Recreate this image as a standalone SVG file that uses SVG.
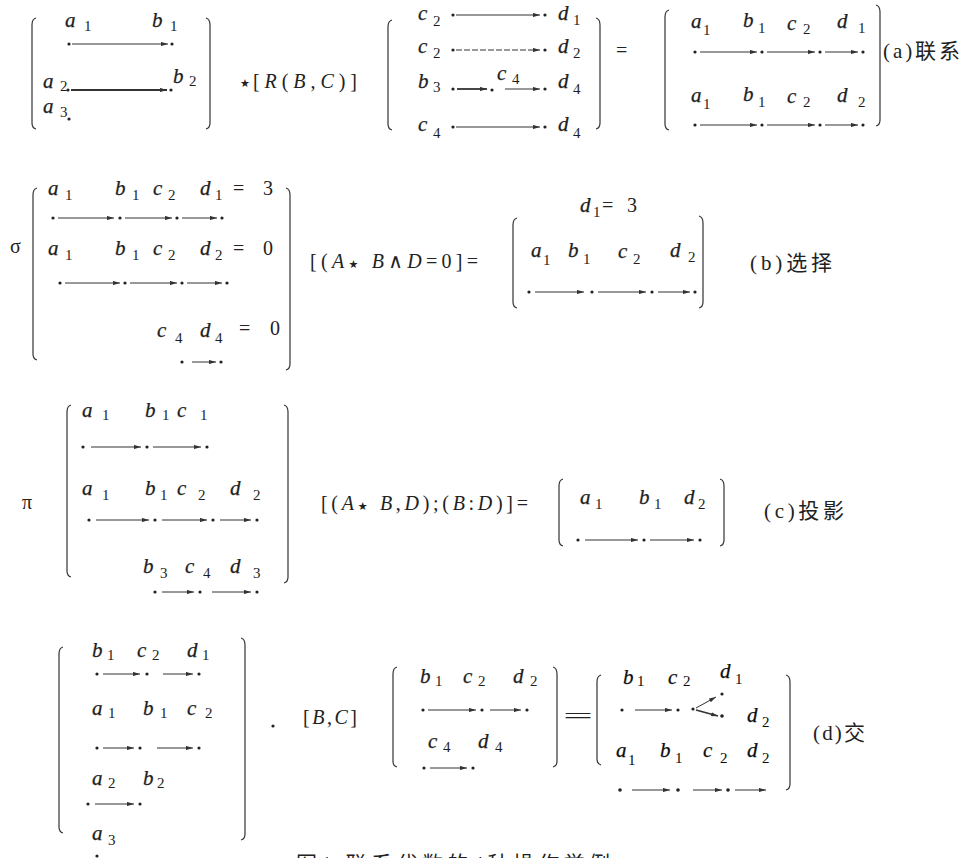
<svg xmlns="http://www.w3.org/2000/svg" width="961" height="858" viewBox="0 0 961 858">
<defs>
<marker id="ah" viewBox="0 0 10 6" refX="10" refY="3" markerWidth="7" markerHeight="4.2" markerUnits="userSpaceOnUse" orient="auto"><path d="M0 0 L10 3 L0 6 z" fill="#333"/></marker>
</defs>
<style>
.v{font-family:"Liberation Serif","DejaVu Serif",serif;font-style:italic;font-size:21px;fill:#1e1e1e;stroke:#1e1e1e;stroke-width:0.25}
.s{font-family:"Liberation Serif","DejaVu Serif",serif;font-size:15px;fill:#1e1e1e}
.op{font-family:"Liberation Serif","DejaVu Serif",serif;font-size:20px;fill:#222}
.i{font-style:italic}
.st{font-family:"DejaVu Sans",sans-serif;font-size:11px;font-style:normal}
.cn{font-family:"Liberation Serif","Noto Sans CJK SC",sans-serif;font-size:21px;fill:#222}
.br{fill:none;stroke:#333;stroke-width:1.2}
.ar{fill:none;stroke:#333;stroke-width:1;marker-end:url(#ah)}
.tk{stroke-width:1.8}
.dt{fill:#222}
.bk .v,.bk .s{fill:#0a0a0a}
</style>
<rect width="961" height="858" fill="#fff"/>

<!-- (a) -->
<g id="a-m1">
<path class="br" d="M36 18 Q32 19 32 25 L32 123 Q32 128 36 129"/>
<path class="br" d="M206 18 Q210 19 210 25 L210 123 Q210 128 206 129"/>
<text class="v" x="65" y="27">a</text><text class="s" x="84" y="31">1</text>
<text class="v" x="152" y="27">b</text><text class="s" x="170" y="31">1</text>
<text class="v" x="43" y="88">a</text><text class="s" x="60" y="91">2</text>
<text class="v" x="173" y="83">b</text><text class="s" x="189" y="86">2</text>
<text class="v" x="43" y="113">a</text><text class="s" x="60" y="117">3</text>
<circle class="dt" cx="69" cy="44" r="1.6"/><circle class="dt" cx="172" cy="44" r="1.6"/>
<circle class="dt" cx="68" cy="90" r="1.6"/><circle class="dt" cx="171" cy="90" r="1.6"/>
<circle class="dt" cx="69" cy="119" r="1.6"/>
</g>
<g id="a-op">
<text class="op st" x="240" y="87" font-size="13">★</text>
<text class="op" x="253" y="88" textLength="104" lengthAdjust="spacing">[<tspan class="i">R</tspan>(<tspan class="i">B</tspan>,<tspan class="i">C</tspan>)]</text>
</g>
<g id="a-m2">
<path class="br" d="M392 20 Q388 21 388 27 L388 124 Q388 129 392 130"/>
<path class="br" d="M596 18 Q600 19 600 25 L600 123 Q600 128 596 129"/>
<text class="v" x="418" y="20">c</text><text class="s" x="433" y="26">2</text>
<text class="v" x="558" y="20">d</text><text class="s" x="573" y="25">1</text>
<text class="v" x="418" y="53">c</text><text class="s" x="433" y="58">2</text>
<text class="v" x="558" y="53">d</text><text class="s" x="573" y="58">2</text>
<text class="v" x="418" y="88">b</text><text class="s" x="433" y="92">3</text>
<text class="v" x="497" y="80" font-size="17">c</text><text class="s" x="512" y="84" font-size="13">4</text>
<text class="v" x="558" y="88">d</text><text class="s" x="573" y="94">4</text>
<text class="v" x="418" y="131" font-style="normal">c</text><text class="s" x="433" y="138">4</text>
<text class="v" x="558" y="131">d</text><text class="s" x="573" y="138">4</text>
<circle class="dt" cx="453" cy="15" r="1.6"/><circle class="dt" cx="545" cy="15" r="1.6"/>
<circle class="dt" cx="453" cy="50" r="1.6"/><circle class="dt" cx="545" cy="50" r="1.6"/>
<circle class="dt" cx="453" cy="89" r="1.6"/><circle class="dt" cx="492" cy="90" r="1.6"/><circle class="dt" cx="545" cy="89" r="1.6"/>
<circle class="dt" cx="453" cy="127" r="1.6"/><circle class="dt" cx="545" cy="127" r="1.6"/>
</g>
<g id="a-eq"><text class="op" x="616" y="57">=</text></g>
<g id="a-m3">
<path class="br" d="M669 10 Q665 11 665 17 L665 124 Q665 129 669 130"/>
<path class="br" d="M876 5 Q880 6 880 12 L880 120 Q880 125 876 126"/>
<text class="v" x="691" y="28">a</text><text class="s" x="703" y="35">1</text>
<text class="v" x="743" y="27">b</text><text class="s" x="758" y="33">1</text>
<text class="v" x="787" y="30">c</text><text class="s" x="803" y="34">2</text>
<text class="v" x="837" y="28">d</text><text class="s" x="858" y="33">1</text>
<text class="v" x="691" y="102">a</text><text class="s" x="703" y="109">1</text>
<text class="v" x="743" y="101">b</text><text class="s" x="758" y="107">1</text>
<text class="v" x="787" y="103">c</text><text class="s" x="803" y="107">2</text>
<text class="v" x="837" y="102">d</text><text class="s" x="858" y="107">2</text>
<circle class="dt" cx="695" cy="52" r="1.6"/><circle class="dt" cx="762" cy="52" r="1.6"/><circle class="dt" cx="820" cy="52" r="1.6"/><circle class="dt" cx="863" cy="52" r="1.6"/>
<circle class="dt" cx="695" cy="125" r="1.6"/><circle class="dt" cx="762" cy="125" r="1.6"/><circle class="dt" cx="820" cy="125" r="1.6"/><circle class="dt" cx="863" cy="125" r="1.6"/>
</g>
<g id="a-label"><text class="cn" x="883" y="58" textLength="77" lengthAdjust="spacing">(a)联系</text></g>

<!-- (b) -->
<g id="b-sigma"><text class="op" x="10" y="253">σ</text></g>
<g id="b-m1">
<path class="br" d="M37 188 Q33 189 33 195 L33 354 Q33 359 37 360"/>
<path class="br" d="M286 188 Q290 189 290 195 L290 364 Q290 369 286 370"/>
<text class="v" x="48" y="195">a</text><text class="s" x="65" y="200">1</text>
<text class="v" x="115" y="195">b</text><text class="s" x="132" y="200">1</text>
<text class="v" x="153" y="195">c</text><text class="s" x="168" y="200">2</text>
<text class="v" x="200" y="195">d</text><text class="s" x="215" y="200">1</text>
<text class="op" x="233" y="195" textLength="40" lengthAdjust="spacing">=3</text>
<text class="v" x="48" y="255">a</text><text class="s" x="65" y="260">1</text>
<text class="v" x="115" y="255">b</text><text class="s" x="132" y="260">1</text>
<text class="v" x="153" y="255">c</text><text class="s" x="168" y="260">2</text>
<text class="v" x="200" y="255">d</text><text class="s" x="215" y="260">2</text>
<text class="op" x="233" y="255" textLength="40" lengthAdjust="spacing">=0</text>
<text class="v" x="157" y="337">c</text><text class="s" x="175" y="343">4</text>
<text class="v" x="200" y="337">d</text><text class="s" x="215" y="343">4</text>
<text class="op" x="239" y="335" textLength="41" lengthAdjust="spacing">=0</text>
<circle class="dt" cx="53" cy="218" r="1.6"/><circle class="dt" cx="120" cy="218" r="1.6"/><circle class="dt" cx="177" cy="218" r="1.6"/><circle class="dt" cx="222" cy="218" r="1.6"/>
<circle class="dt" cx="60" cy="283" r="1.6"/><circle class="dt" cx="125" cy="283" r="1.6"/><circle class="dt" cx="182" cy="283" r="1.6"/><circle class="dt" cx="227" cy="283" r="1.6"/>
<circle class="dt" cx="182" cy="362" r="1.6"/><circle class="dt" cx="221" cy="362" r="1.6"/>
</g>
<g id="b-op"><text class="op" x="310" y="268" textLength="168" lengthAdjust="spacing">[(<tspan class="i">A</tspan><tspan class="st">★</tspan> <tspan class="i">B</tspan>∧<tspan class="i">D</tspan>=0]=</text></g>
<g id="b-m2">
<text class="v" x="580" y="212">d</text><text class="s" x="593" y="217">1</text>
<text class="op" x="602" y="212" textLength="35" lengthAdjust="spacing">=3</text>
<path class="br" d="M517 218 Q513 219 513 225 L513 302 Q513 307 517 308"/>
<path class="br" d="M699 216 Q703 217 703 223 L703 302 Q703 307 699 308"/>
<text class="v" x="531" y="257">a</text><text class="s" x="543" y="265">1</text>
<text class="v" x="568" y="257">b</text><text class="s" x="583" y="264">1</text>
<text class="v" x="618" y="258">c</text><text class="s" x="633" y="264">2</text>
<text class="v" x="670" y="257">d</text><text class="s" x="688" y="262">2</text>
<circle class="dt" cx="529" cy="292" r="1.6"/><circle class="dt" cx="592" cy="292" r="1.6"/><circle class="dt" cx="652" cy="292" r="1.6"/><circle class="dt" cx="695" cy="292" r="1.6"/>
</g>
<g id="b-label"><text class="cn" x="750" y="270" textLength="82" lengthAdjust="spacing">(b)选择</text></g>

<!-- (c) -->
<g id="c-pi"><text class="op" x="22" y="509">π</text></g>
<g id="c-m1">
<path class="br" d="M71 405 Q67 406 67 412 L67 571 Q67 576 71 577"/>
<path class="br" d="M284 405 Q288 406 288 412 L288 577 Q288 582 284 583"/>
<text class="v" x="82" y="417">a</text><text class="s" x="102" y="420">1</text>
<text class="v" x="145" y="417">b</text><text class="s" x="162" y="420">1</text>
<text class="v" x="177" y="417">c</text><text class="s" x="200" y="420">1</text>
<text class="v" x="82" y="495">a</text><text class="s" x="102" y="500">1</text>
<text class="v" x="145" y="495">b</text><text class="s" x="160" y="500">1</text>
<text class="v" x="177" y="495">c</text><text class="s" x="198" y="500">2</text>
<text class="v" x="230" y="495">d</text><text class="s" x="253" y="500">2</text>
<text class="v" x="143" y="573">b</text><text class="s" x="160" y="578">3</text>
<text class="v" x="185" y="573">c</text><text class="s" x="203" y="578">4</text>
<text class="v" x="230" y="573">d</text><text class="s" x="253" y="578">3</text>
<circle class="dt" cx="83" cy="447" r="1.6"/><circle class="dt" cx="147" cy="447" r="1.6"/><circle class="dt" cx="207" cy="447" r="1.6"/>
<circle class="dt" cx="89" cy="520" r="1.6"/><circle class="dt" cx="155" cy="520" r="1.6"/><circle class="dt" cx="213" cy="520" r="1.6"/><circle class="dt" cx="257" cy="520" r="1.6"/>
<circle class="dt" cx="155" cy="592" r="1.6"/><circle class="dt" cx="200" cy="592" r="1.6"/><circle class="dt" cx="257" cy="592" r="1.6"/>
</g>
<g id="c-op"><text class="op" x="321" y="510" textLength="207" lengthAdjust="spacing">[(<tspan class="i">A</tspan><tspan class="st">★</tspan> <tspan class="i">B</tspan>,<tspan class="i">D</tspan>);(<tspan class="i">B</tspan>:<tspan class="i">D</tspan>)]=</text></g>
<g id="c-m2">
<path class="br" d="M563 479 Q559 480 559 486 L559 540 Q559 545 563 546"/>
<path class="br" d="M720 479 Q724 480 724 486 L724 540 Q724 545 720 546"/>
<text class="v" x="580" y="504">a</text><text class="s" x="595" y="509">1</text>
<text class="v" x="639" y="504">b</text><text class="s" x="654" y="509">1</text>
<text class="v" x="684" y="504">d</text><text class="s" x="698" y="509">2</text>
<circle class="dt" cx="578" cy="540" r="1.6"/><circle class="dt" cx="644" cy="540" r="1.6"/><circle class="dt" cx="700" cy="540" r="1.6"/>
</g>
<g id="c-label"><text class="cn" x="764" y="518" textLength="80" lengthAdjust="spacing">(c)投影</text></g>

<!-- (d) -->
<g id="d-m1">
<path class="br" d="M63 647 Q59 648 59 654 L59 827 Q59 832 63 833"/>
<path class="br" d="M241 638 Q245 639 245 645 L245 834 Q245 839 241 840"/>
<text class="v" x="92" y="657">b</text><text class="s" x="107" y="660">1</text>
<text class="v" x="137" y="657">c</text><text class="s" x="152" y="660">2</text>
<text class="v" x="187" y="657">d</text><text class="s" x="202" y="660">1</text>
<text class="v" x="92" y="715">a</text><text class="s" x="108" y="718">1</text>
<text class="v" x="143" y="715">b</text><text class="s" x="160" y="718">1</text>
<text class="v" x="187" y="715">c</text><text class="s" x="205" y="718">2</text>
<text class="v" x="92" y="785">a</text><text class="s" x="108" y="788">2</text>
<text class="v" x="143" y="785">b</text><text class="s" x="157" y="788">2</text>
<text class="v" x="92" y="840">a</text><text class="s" x="108" y="845">3</text>
<circle class="dt" cx="97" cy="674" r="1.6"/><circle class="dt" cx="147" cy="674" r="1.6"/><circle class="dt" cx="199" cy="674" r="1.6"/>
<circle class="dt" cx="97" cy="748" r="1.6"/><circle class="dt" cx="140" cy="748" r="1.6"/><circle class="dt" cx="199" cy="748" r="1.6"/>
<circle class="dt" cx="88" cy="804" r="1.6"/><circle class="dt" cx="140" cy="804" r="1.6"/>
<circle class="dt" cx="97" cy="856" r="1.6"/>
</g>
<g id="d-op">
<circle class="dt" cx="273" cy="726" r="1.6"/>
<text class="op" x="303" y="724" textLength="54" lengthAdjust="spacing">[<tspan class="i">B</tspan>,<tspan class="i">C</tspan>]</text>
</g>
<g id="d-m2">
<path class="br" d="M397 667 Q393 668 393 674 L393 761 Q393 766 397 767"/>
<path class="br" d="M553 667 Q557 668 557 674 L557 761 Q557 766 553 767"/>
<text class="v" x="420" y="683">b</text><text class="s" x="435" y="686">1</text>
<text class="v" x="463" y="683" font-style="normal">c</text><text class="s" x="478" y="686">2</text>
<text class="v" x="513" y="683">d</text><text class="s" x="530" y="686">2</text>
<text class="v" x="428" y="748">c</text><text class="s" x="443" y="752">4</text>
<text class="v" x="478" y="748">d</text><text class="s" x="495" y="752">4</text>
<circle class="dt" cx="423" cy="710" r="1.6"/><circle class="dt" cx="482" cy="710" r="1.6"/><circle class="dt" cx="527" cy="710" r="1.6"/>
<circle class="dt" cx="424" cy="768" r="1.6"/><circle class="dt" cx="473" cy="768" r="1.6"/>
</g>
<g id="d-eq"><text class="op" x="563" y="723" font-size="26" textLength="30" lengthAdjust="spacingAndGlyphs">=</text></g>
<g id="d-m3" class="bk">
<path class="br" d="M601 675 Q597 676 597 682 L597 759 Q597 764 601 765"/>
<path class="br" d="M786 675 Q790 676 790 682 L790 784 Q790 789 786 790"/>
<text class="v" x="623" y="684">b</text><text class="s" x="637" y="686">1</text>
<text class="v" x="668" y="684">c</text><text class="s" x="683" y="686">2</text>
<text class="v" x="720" y="678">d</text><text class="s" x="735" y="684">1</text>
<text class="v" x="747" y="722">d</text><text class="s" x="762" y="727">2</text>
<text class="v" x="616" y="757">a</text><text class="s" x="628" y="765">1</text>
<text class="v" x="660" y="757">b</text><text class="s" x="675" y="763">1</text>
<text class="v" x="703" y="757">c</text><text class="s" x="720" y="763">2</text>
<text class="v" x="747" y="757">d</text><text class="s" x="762" y="763">2</text>
<circle class="dt" cx="622" cy="710" r="1.6"/><circle class="dt" cx="678" cy="710" r="1.6"/><circle class="dt" cx="693" cy="709" r="1.6"/>
<circle class="dt" cx="722" cy="694" r="1.6"/><circle class="dt" cx="722" cy="716" r="1.8"/>
<circle class="dt" cx="620" cy="790" r="1.8"/><circle class="dt" cx="678" cy="790" r="1.8"/><circle class="dt" cx="728" cy="790" r="1.8"/>
</g>
<g id="d-label"><text class="cn" x="813" y="740" textLength="52" lengthAdjust="spacing">(d)交</text></g>

<g id="caption"><text class="cn" x="296" y="871" font-size="22" textLength="314" lengthAdjust="spacing">图1 联系代数的4种操作举例</text></g>

<g id="connectors">
<line class="ar" x1="72" y1="44" x2="168" y2="44"/>
<line class="ar tk" x1="71" y1="90" x2="167" y2="90"/>
<line class="ar" x1="456" y1="15" x2="540" y2="15" stroke-width="1.3"/>
<line class="ar" x1="456" y1="50" x2="540" y2="50" stroke="#666" stroke-dasharray="6 2"/>
<line class="ar tk" x1="457" y1="89" x2="487" y2="89"/>
<line class="ar" x1="505" y1="89" x2="540" y2="89" stroke-width="1.6"/>
<line class="ar" x1="456" y1="127" x2="540" y2="127"/>
<line class="ar" x1="700" y1="52" x2="757" y2="52"/>
<line class="ar" x1="767" y1="52" x2="815" y2="52"/>
<line class="ar" x1="825" y1="52" x2="858" y2="52"/>
<line class="ar" x1="700" y1="125" x2="757" y2="125"/>
<line class="ar" x1="767" y1="125" x2="815" y2="125"/>
<line class="ar" x1="825" y1="125" x2="858" y2="125"/>
<line class="ar" x1="58" y1="218" x2="114" y2="218"/>
<line class="ar" x1="125" y1="218" x2="172" y2="218"/>
<line class="ar" x1="182" y1="218" x2="217" y2="218"/>
<line class="ar" x1="65" y1="283" x2="120" y2="283"/>
<line class="ar" x1="130" y1="283" x2="177" y2="283"/>
<line class="ar" x1="187" y1="283" x2="222" y2="283"/>
<line class="ar" x1="192" y1="362" x2="216" y2="362"/>
<line class="ar" x1="535" y1="292" x2="584" y2="292"/>
<line class="ar" x1="598" y1="292" x2="646" y2="292"/>
<line class="ar" x1="658" y1="292" x2="690" y2="292"/>
<line class="ar" x1="91" y1="447" x2="141" y2="447"/>
<line class="ar" x1="153" y1="447" x2="201" y2="447"/>
<line class="ar" x1="96" y1="520" x2="149" y2="520"/>
<line class="ar" x1="162" y1="520" x2="207" y2="520"/>
<line class="ar" x1="220" y1="520" x2="251" y2="520"/>
<line class="ar" x1="162" y1="592" x2="194" y2="592"/>
<line class="ar" x1="212" y1="592" x2="251" y2="592"/>
<line class="ar" x1="585" y1="540" x2="638" y2="540"/>
<line class="ar" x1="650" y1="540" x2="694" y2="540"/>
<line class="ar" x1="103" y1="674" x2="140" y2="674"/>
<line class="ar" x1="163" y1="674" x2="193" y2="674"/>
<line class="ar" x1="103" y1="748" x2="134" y2="748" stroke-width="1.5"/>
<line class="ar" x1="157" y1="748" x2="193" y2="748"/>
<line class="ar" x1="95" y1="804" x2="134" y2="804"/>
<line class="ar" x1="428" y1="710" x2="476" y2="710"/>
<line class="ar" x1="490" y1="710" x2="521" y2="710"/>
<line class="ar" x1="430" y1="768" x2="467" y2="768"/>
<line class="ar" x1="635" y1="710" x2="672" y2="710"/>
<line class="ar" x1="696" y1="708" x2="716" y2="697"/>
<line class="ar tk" x1="696" y1="710" x2="718" y2="716"/>
<line class="ar" x1="632" y1="790" x2="670" y2="790" stroke-width="1.6"/>
<line class="ar" x1="693" y1="790" x2="722" y2="790" stroke-width="1.4"/>
<line class="ar" x1="735" y1="790" x2="766" y2="790" stroke-width="1.4"/>
</g>
</svg>
